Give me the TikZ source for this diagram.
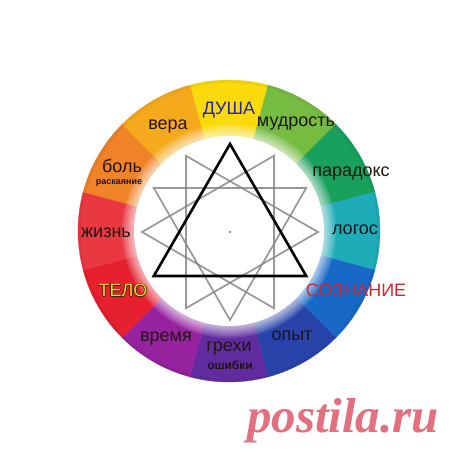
\documentclass[tikz,border=0pt]{standalone}
\usepackage{fontspec}
\setmainfont{Liberation Sans}
\newfontfamily\wmfont{Liberation Serif}
\definecolor{cDusha}{RGB}{250,218,10}
\definecolor{cMud}{RGB}{118,188,66}
\definecolor{cPar}{RGB}{24,160,92}
\definecolor{cLog}{RGB}{30,172,184}
\definecolor{cSoz}{RGB}{24,104,200}
\definecolor{cOpyt}{RGB}{40,68,170}
\definecolor{cGreh}{RGB}{96,44,160}
\definecolor{cVrem}{RGB}{150,34,160}
\definecolor{cTelo}{RGB}{230,32,46}
\definecolor{cZhizn}{RGB}{234,56,66}
\definecolor{cBol}{RGB}{240,130,40}
\definecolor{cVera}{RGB}{245,170,30}
\definecolor{txt}{RGB}{32,20,20}
\definecolor{dushatxt}{RGB}{36,36,172}
\definecolor{telofill}{RGB}{238,212,40}
\definecolor{telooutl}{RGB}{60,30,0}
\definecolor{soztxt}{RGB}{206,38,50}
\definecolor{wmcol}{RGB}{226,112,126}
\definecolor{greyline}{RGB}{135,135,135}
\newcommand{\otxt}[3]{\leavevmode
 \rlap{\color{#2}\kern-0.8pt #1}\rlap{\color{#2}\kern0.8pt #1}%
 \rlap{\color{#2}\raisebox{0.8pt}{#1}}\rlap{\color{#2}\raisebox{-0.8pt}{#1}}%
 {\color{#3}#1}}
\tikzset{
 lbl/.style={anchor=base, inner sep=0pt, text=txt, font=\fontsize{18}{20}\selectfont},
 small/.style={anchor=base, inner sep=0pt, text=txt, font=\bfseries\fontsize{#1}{#1}\selectfont},
 greytri/.style={draw=greyline, line width=1.7pt, opacity=0.85},
 blacktri/.style={draw=black, line width=2.6pt}
}
\begin{document}
\begin{tikzpicture}[x=1pt,y=1pt]
\useasboundingbox (0,0) rectangle (460,455);
\fill[white] (0,0) rectangle (460,455);
\coordinate (C) at (229,224);
% ring segments
\foreach \a/\c in {90/cDusha,60/cMud,30/cPar,0/cLog,-30/cSoz,-60/cOpyt,-90/cGreh,-120/cVrem,-150/cTelo,180/cZhizn,150/cBol,120/cVera}{
 \fill[\c, draw=\c, line width=0.3pt] (C) -- ++(\a-15:151) arc[start angle=\a-15, end angle=\a+15, radius=151] -- cycle;
}
% soft outer rim
\foreach \r in {150.5,149.5,148.5}{
 \draw[black, opacity=0.04, line width=1pt] (C) circle[radius=\r];
}
% inner glow and white disc
\foreach \r in {107,105,103,101,99.5,98,96.5}{
 \fill[white, opacity=0.13] (C) circle[radius=\r];
}
\fill[white] (C) circle[radius=95];
% triangles
\coordinate (O) at (230,223);
\foreach \i in {0,...,11}{ \path (O) ++(\i*30:88) coordinate (v\i); }
\draw[greytri] (v0) -- (v4) -- (v8) -- cycle;
\draw[greytri] (v2) -- (v6) -- (v10) -- cycle;
\draw[greytri] (v1) -- (v5) -- (v9) -- cycle;
\draw[blacktri] (v3) -- (v7) -- (v11) -- cycle;
\fill[black!70] (O) circle[radius=1];
% labels
\node[lbl, text=dushatxt] (dusha) at (229,340) {ДУША};
\node[lbl] (mud) at (296,328) {мудрость};
\node[lbl] (vera) at (168,325) {вера};
\node[lbl] (bol) at (122,282) {боль};
\node[small=9] (rask) at (119,270) {раскаяние};
\node[lbl] (par) at (351,278) {парадокс};
\node[lbl] (log) at (355,220) {логос};
\node[lbl] (zhizn) at (106,217) {жизнь};
\node[lbl] (telo) at (123,158) {\otxt{ТЕЛО}{telooutl}{telofill}};
\node[lbl, text=soztxt] (soz) at (356,158) {СОЗНАНИЕ};
\node[lbl] (vrem) at (166,113) {время};
\node[lbl] (greh) at (229,103) {грехи};
\node[small=12] (osh) at (230,85) {ошибки};
\node[lbl] (opyt) at (292,114) {опыт};
% watermark
\node[anchor=base, inner sep=0pt, text=wmcol, font=\wmfont\bfseries\itshape\fontsize{49}{50}\selectfont] (wm) at (343,23) {postila.ru};
\end{tikzpicture}
\end{document}
